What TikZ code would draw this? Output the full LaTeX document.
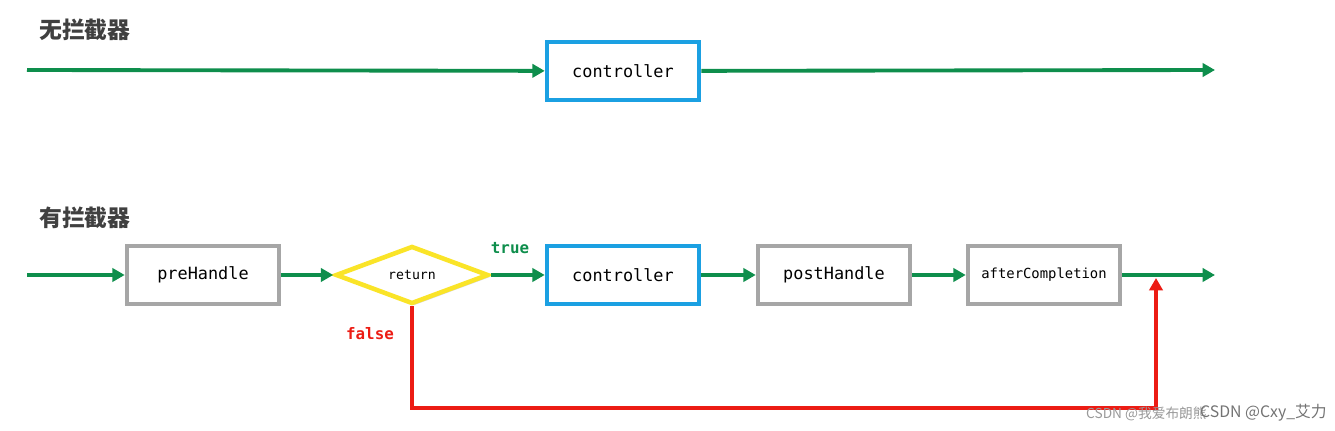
\documentclass[tikz,border=0pt]{standalone}
\usepackage{fontspec}
\setmonofont{DejaVu Sans Mono}
\newfontfamily\cjk{Noto Sans CJK SC}
\usetikzlibrary{arrows.meta,positioning,shapes.geometric,shadows}

\definecolor{flowgreen}{RGB}{14,142,76}
\definecolor{ctrlblue}{RGB}{27,160,226}
\definecolor{boxgray}{RGB}{166,166,166}
\definecolor{retyellow}{RGB}{250,228,40}
\definecolor{falsered}{RGB}{236,28,20}
\definecolor{titlegray}{RGB}{64,64,64}

\tikzset{
	flow/.style={draw=flowgreen, line width=2.2pt, -{Triangle[length=7pt,width=7.5pt]}},
	backflow/.style={draw=falsered, line width=2.2pt, -{Triangle[length=7pt,width=7.5pt]}},
	stepbox/.style={rectangle, draw=boxgray, fill=white, line width=2.6pt,
		minimum width=3.04cm, minimum height=1.16cm, inner sep=0pt,
		drop shadow={shadow xshift=1.2pt, shadow yshift=-1.2pt, opacity=0.3},
		font=\ttfamily\fontsize{9.6}{11}\selectfont},
	ctrlbox/.style={stepbox, draw=ctrlblue},
	title/.style={anchor=west, text=titlegray, font=\cjk\bfseries\fontsize{13}{15}\selectfont},
	flowlabel/.style={font=\ttfamily\bfseries\fontsize{9}{11}\selectfont}
}

\begin{document}
\begin{tikzpicture}[x=0.02cm, y=-0.02cm]
	\useasboundingbox (0, 0) rectangle (1335, 431);
	
	% without interceptor
	\node[title] (notitle) at (33, 30) {无拦截器};
	\coordinate (nostart) at (27, 70);
	\coordinate (noend) at (1215, 70);
	\node[ctrlbox] (noctrl) at (623, 71) {controller};
	\draw[flow] (nostart) -- (noctrl);
	\draw[flow] (noctrl) -- (noend);
	
	% with interceptor
	\node[title] (withtitle) at (33, 218) {有拦截器};
	\coordinate (start) at (27, 275);
	\coordinate (end) at (1215, 275);
	\node[stepbox] (pre) at (203, 275) {preHandle};
	\node[diamond, draw=retyellow, fill=white, line width=2.6pt, inner sep=0pt,
		minimum width=3.06cm, minimum height=1.16cm,
		drop shadow={shadow xshift=1.2pt, shadow yshift=-1.2pt, opacity=0.3},
		font=\ttfamily\fontsize{7.5}{9}\selectfont] (ret) at (412, 275) {return};
	\node[ctrlbox] (ctrl) at (623, 275) {controller};
	\node[stepbox] (post) at (834, 275) {postHandle};
	\node[stepbox, font=\ttfamily\fontsize{7.9}{9}\selectfont] (after) at (1044, 275) {afterCompletion};
	
	\draw[flow] (start) -- (pre);
	\draw[flow] (pre) -- (ret);
	\draw[flow] (ret) -- (ctrl);
	\draw[flow] (ctrl) -- (post);
	\draw[flow] (post) -- (after);
	\draw[flow] (after) -- (end);
	
	\coordinate (fbottom) at (1156, 408);
	\coordinate (fjoin) at (1156, 278);
	\draw[backflow] (ret.south) |- (fbottom) -- (fjoin);
	
	\node[flowlabel, text=flowgreen] (truelbl) at (510, 248) {true};
	\node[flowlabel, text=falsered] (falselbl) at (370, 334) {false};
	
	% watermarks
	\node[anchor=west, text=black!40, font=\cjk\fontsize{7.8}{9}\selectfont] (wm1) at (1080, 414) {CSDN @我爱布朗熊};
	\node[anchor=west, text=black!55, font=\cjk\fontsize{9}{11}\selectfont] (wm2) at (1194, 413) {CSDN @Cxy\_艾力};
\end{tikzpicture}
\end{document}
